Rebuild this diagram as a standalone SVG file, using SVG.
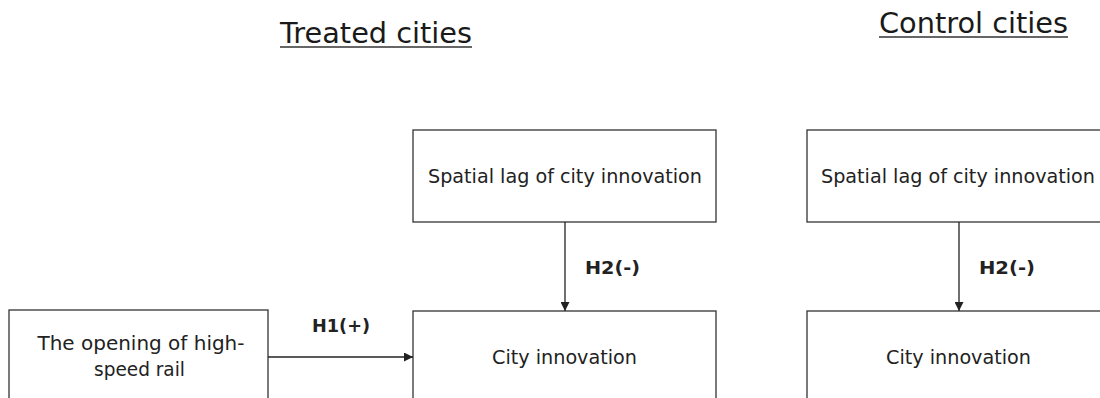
<svg xmlns="http://www.w3.org/2000/svg" width="1100" height="398" viewBox="0 0 1100 398">
<style>
.box{fill:#fff;stroke:#333;stroke-width:1.3}
.t{font-family:"DejaVu Sans","Liberation Sans",sans-serif;font-size:19.5px;fill:#222;text-anchor:middle}
.title{font-family:"DejaVu Sans","Liberation Sans",sans-serif;font-size:28px;fill:#1a1a1a}
.lbl{font-family:"DejaVu Sans","Liberation Sans",sans-serif;font-size:17px;font-weight:bold;fill:#222}
.ul{stroke:#333;stroke-width:1.6}
.edge{stroke:#222;stroke-width:1.3;fill:none}
</style>
<defs>
<marker id="arr" viewBox="0 0 10 10" refX="10" refY="5" markerWidth="10" markerHeight="9" markerUnits="userSpaceOnUse" orient="auto">
<path d="M0,0 L10,5 L0,10 z" fill="#222"/>
</marker>
</defs>
<rect width="1100" height="398" fill="#fff"/>
<g id="title-treated">
<text class="title" x="280" y="43" textLength="192" lengthAdjust="spacingAndGlyphs">Treated cities</text>
<line class="ul" x1="280" y1="47" x2="472" y2="47"/>
</g>
<g id="title-control">
<text class="title" x="879" y="33" textLength="189" lengthAdjust="spacingAndGlyphs">Control cities</text>
<line class="ul" x1="879" y1="37" x2="1068" y2="37"/>
</g>
<g id="hsr">
<rect class="box" x="9" y="310" width="259" height="95"/>
<text class="t" x="141" y="350" textLength="207" lengthAdjust="spacingAndGlyphs">The opening of high-</text>
<text class="t" x="139.5" y="376" textLength="91" lengthAdjust="spacingAndGlyphs">speed rail</text>
</g>
<g id="treated-lag">
<rect class="box" x="413" y="130" width="303" height="92"/>
<text class="t" x="565" y="183" textLength="274" lengthAdjust="spacingAndGlyphs">Spatial lag of city innovation</text>
</g>
<g id="treated-innov">
<rect class="box" x="413" y="311" width="303" height="95"/>
<text class="t" x="564.5" y="364" textLength="145" lengthAdjust="spacingAndGlyphs">City innovation</text>
</g>
<g id="control-lag">
<rect class="box" x="807" y="130" width="303" height="92"/>
<text class="t" x="958" y="183" textLength="274" lengthAdjust="spacingAndGlyphs">Spatial lag of city innovation</text>
</g>
<g id="control-innov">
<rect class="box" x="807" y="311" width="303" height="95"/>
<text class="t" x="958.5" y="364" textLength="145" lengthAdjust="spacingAndGlyphs">City innovation</text>
</g>
<g id="connectors">
<line class="edge" x1="268" y1="357" x2="413" y2="357" marker-end="url(#arr)"/>
<text class="lbl" x="312" y="332" textLength="58" lengthAdjust="spacingAndGlyphs">H1(+)</text>
<line class="edge" x1="565" y1="222" x2="565" y2="311" marker-end="url(#arr)"/>
<text class="lbl" x="585" y="274" textLength="55" lengthAdjust="spacingAndGlyphs">H2(-)</text>
<line class="edge" x1="959" y1="222" x2="959" y2="311" marker-end="url(#arr)"/>
<text class="lbl" x="979" y="274" textLength="56" lengthAdjust="spacingAndGlyphs">H2(-)</text>
</g>
</svg>
